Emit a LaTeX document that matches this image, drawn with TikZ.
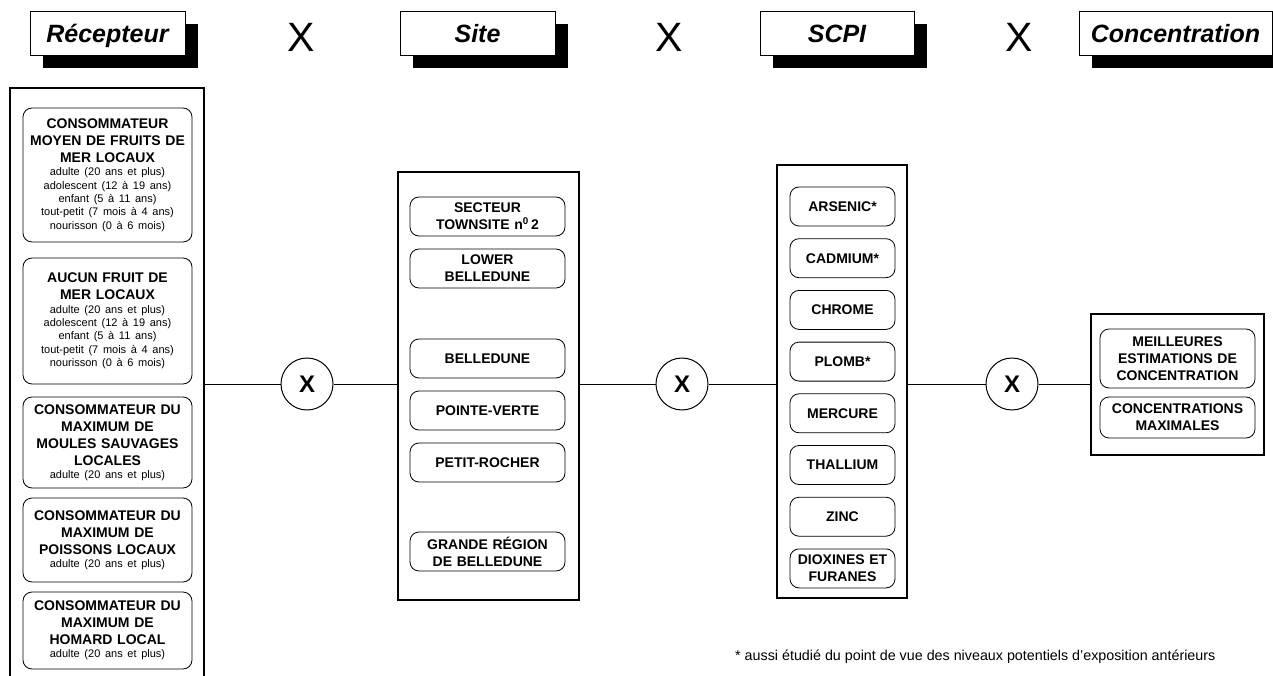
\documentclass[tikz,border=0pt]{standalone}
\usepackage{fontspec}
\setmainfont{Liberation Sans}
\usetikzlibrary{shadows}
\newcommand{\bt}[1]{{\fontsize{14}{17}\selectfont\bfseries #1\par}}
\newcommand{\st}[1]{{\fontsize{11}{13.4}\selectfont\mdseries #1\par}}
\begin{document}
\begin{tikzpicture}[x=1pt,y=-1pt,
  hdr/.style={draw, line width=0.9pt, fill=white, minimum height=44pt, inner sep=0pt,
    text height=20pt, text depth=0pt,
    font=\fontsize{25}{30}\selectfont\bfseries\itshape,
    drop shadow={shadow xshift=13pt, shadow yshift=-13pt, fill=black, opacity=1}},
  bigx/.style={font=\fontsize{41}{41}\selectfont, inner sep=0pt},
  bigbox/.style={draw, line width=1.2pt, inner sep=0pt},
  item/.style={draw, rounded corners=9pt, line width=0.8pt, align=center, inner xsep=2pt, inner ysep=0pt,
    font=\fontsize{14}{17}\selectfont\bfseries},
  rbox/.style={item, text width=165pt},
  sbox/.style={item, text width=151pt, minimum height=39pt},
  cbox/.style={item, text width=101pt, minimum height=39pt},
  kbox/.style={item, text width=151pt},
  circ/.style={draw, circle, minimum size=52pt, inner sep=0pt, line width=1pt, fill=white,
    font=\fontsize{24}{24}\selectfont\bfseries},
  conn/.style={line width=1pt},
  note/.style={font=\fontsize{14.3}{16}\selectfont, inner sep=0pt, anchor=west}
]
\useasboundingbox (0,0) rectangle (1273,676);

% headers
\node[hdr, minimum width=155pt] (hR) at (107.5,33) {Récepteur};
\node[bigx] (x1) at (301,37) {X};
\node[hdr, minimum width=155pt] (hS) at (477.5,33) {Site};
\node[bigx] (x2) at (669,37) {X};
\node[hdr, minimum width=154pt] (hC) at (837,33) {SCPI};
\node[bigx] (x3) at (1019,37) {X};
\node[hdr, minimum width=193pt] (hK) at (1175.5,33) {Concentration};

% big boxes
\node[bigbox, minimum width=194pt, minimum height=591pt] (R) at (107,383.5) {};
\node[bigbox, minimum width=181pt, minimum height=428pt] (S) at (488.5,386) {};
\node[bigbox, minimum width=130pt, minimum height=433pt] (C) at (842,381.5) {};
\node[bigbox, minimum width=173pt, minimum height=141pt] (K) at (1177.5,384.5) {};

% Recepteur items
\node[rbox, minimum height=134pt] (r1) at (107.5,175) {\bt{CONSOMMATEUR\\MOYEN DE FRUITS DE\\MER LOCAUX}\st{adulte (20 ans et plus)\\adolescent (12 à 19 ans)\\enfant (5 à 11 ans)\\tout-petit (7 mois à 4 ans)\\nourisson (0 à 6 mois)}};
\node[rbox, minimum height=126pt] (r2) at (107.5,321) {\bt{AUCUN FRUIT DE\\MER LOCAUX}\st{adulte (20 ans et plus)\\adolescent (12 à 19 ans)\\enfant (5 à 11 ans)\\tout-petit (7 mois à 4 ans)\\nourisson (0 à 6 mois)}};
\node[rbox, minimum height=91pt] (r3) at (107.5,442.5) {\bt{CONSOMMATEUR DU\\MAXIMUM DE\\MOULES SAUVAGES\\LOCALES}\st{adulte (20 ans et plus)}};
\node[rbox, minimum height=84pt] (r4) at (107.5,540) {\bt{CONSOMMATEUR DU\\MAXIMUM DE\\POISSONS LOCAUX}\st{adulte (20 ans et plus)}};
\node[rbox, minimum height=77pt] (r5) at (107.5,630.5) {\bt{CONSOMMATEUR DU\\MAXIMUM DE\\HOMARD LOCAL}\st{adulte (20 ans et plus)}};

% Site items
\node[sbox] (s1) at (487.5,216.5) {SECTEUR\\TOWNSITE n\textsuperscript{0}\,2};
\node[sbox] (s2) at (487.5,268.5) {LOWER\\BELLEDUNE};
\node[sbox] (s3) at (487.5,358.5) {BELLEDUNE};
\node[sbox] (s4) at (487.5,410.5) {POINTE-VERTE};
\node[sbox] (s5) at (487.5,462.5) {PETIT-ROCHER};
\node[sbox] (s6) at (487.5,551.5) {GRANDE RÉGION\\DE BELLEDUNE};

% SCPI items
\node[cbox] (c1) at (842.5,206.5) {ARSENIC*};
\node[cbox] (c2) at (842.5,258.2) {CADMIUM*};
\node[cbox] (c3) at (842.5,309.9) {CHROME};
\node[cbox] (c4) at (842.5,361.6) {PLOMB*};
\node[cbox] (c5) at (842.5,413.3) {MERCURE};
\node[cbox] (c6) at (842.5,465.0) {THALLIUM};
\node[cbox] (c7) at (842.5,516.7) {ZINC};
\node[cbox] (c8) at (842.5,568.4) {DIOXINES ET\\FURANES};

% Concentration items
\node[kbox, minimum height=59pt] (k1) at (1177.5,358.5) {MEILLEURES\\ESTIMATIONS DE\\CONCENTRATION};
\node[kbox, minimum height=41pt] (k2) at (1177.5,417.5) {CONCENTRATIONS\\MAXIMALES};

% circles and connectors
\node[circ] (o1) at (307,384) {X};
\node[circ] (o2) at (682,384) {X};
\node[circ] (o3) at (1012,384) {X};
\draw[conn] (R.east |- o1.west) -- (o1.west);
\draw[conn] (o1.east) -- (S.west |- o1.east);
\draw[conn] (S.east |- o2.west) -- (o2.west);
\draw[conn] (o2.east) -- (C.west |- o2.east);
\draw[conn] (C.east |- o3.west) -- (o3.west);
\draw[conn] (o3.east) -- (K.west |- o3.east);

% footnote
\node[note] (fn) at (735,657) {* aussi étudié du point de vue des niveaux potentiels d'exposition antérieurs};
\end{tikzpicture}
\end{document}
